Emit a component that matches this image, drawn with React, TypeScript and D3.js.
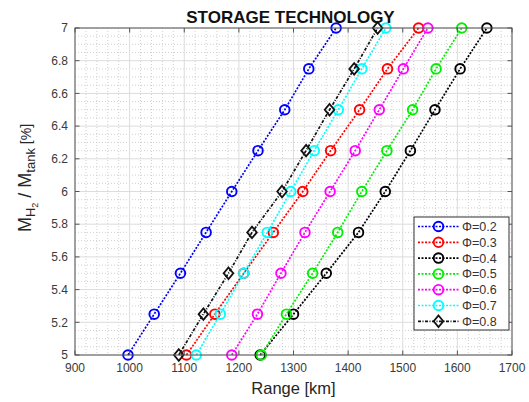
import React from "react";
import * as d3 from "d3";

const yValues = [5, 5.25, 5.5, 5.75, 6, 6.25, 6.5, 6.75, 7];
const phi02 = [997, 1045, 1093, 1140, 1187, 1235, 1284, 1328, 1378];
const phi03 = [1104, 1156, 1209, 1263, 1317, 1368, 1421, 1472, 1529];
const phi04 = [1239, 1300, 1360, 1419, 1468, 1514, 1559, 1605, 1654];
const phi05 = [1241, 1287, 1335, 1381, 1425, 1471, 1518, 1561, 1608];
const phi06 = [1187, 1234, 1277, 1321, 1367, 1413, 1457, 1501, 1546];
const phi07 = [1122, 1166, 1209, 1252, 1295, 1338, 1382, 1425, 1469];
const phi08 = [1090, 1135, 1181, 1224, 1279, 1323, 1366, 1411, 1454];

const seriesNames = ["Φ=0.2", "Φ=0.3", "Φ=0.4", "Φ=0.5", "Φ=0.6", "Φ=0.7", "Φ=0.8"];
const seriesColors = ["#0000ff", "#ff0000", "#000000", "#00ee00", "#ff00ff", "#00ffff", "#111111"];
const seriesMarkers = ["circle", "circle", "circle", "circle", "circle", "circle", "diamond"];
const seriesData = [phi02, phi03, phi04, phi05, phi06, phi07, phi08];

const xTicks = [900, 1000, 1100, 1200, 1300, 1400, 1500, 1600, 1700];
const yTicks = [5, 5.2, 5.4, 5.6, 5.8, 6, 6.2, 6.4, 6.6, 6.8, 7];

const W = 529, H = 402;
const L = 75, R = 512, T = 28, B = 355;

export default function App() {
  const x = d3.scaleLinear().domain([900, 1700]).range([L, R]);
  const y = d3.scaleLinear().domain([5, 7]).range([B, T]);
  const xMinor = d3.range(900, 1701, 20).filter((v) => v % 100 !== 0);
  const yMinor = d3.range(0, 41).map((i) => 5 + i * 0.05).filter((v, i) => i % 4 !== 0);
  const line = d3.line<[number, number]>().x((d) => x(d[0])).y((d) => y(d[1]));
  const font = "Arial, 'Liberation Sans', Helvetica, sans-serif";

  const marker = (kind: string, cx: number, cy: number, color: string, key: any) =>
    kind === "diamond" ? (
      <path key={key} d={`M${cx},${cy - 5.8}L${cx + 4.8},${cy}L${cx},${cy + 5.8}L${cx - 4.8},${cy}Z`} fill="none" stroke={color} strokeWidth={1.8} />
    ) : (
      <circle key={key} cx={cx} cy={cy} r={4.8} fill="none" stroke={color} strokeWidth={1.9} />
    );

  const legX = 414, legY = 217, legW = 95, legH = 113, legStep = 15.8;

  return (
    <svg width={W} height={H} style={{ position: "absolute", left: 0, top: 0, background: "#fff" }} fontFamily={font}>
      <rect x={0} y={0} width={W} height={H} fill="#fff" />
      <rect x={L} y={T} width={R - L} height={B - T} fill="#fff" />
      {xMinor.map((v) => (
        <line key={"xm" + v} x1={x(v)} x2={x(v)} y1={T} y2={B} stroke="#c4c4c4" strokeWidth={0.8} strokeDasharray="1,2" />
      ))}
      {yMinor.map((v, i) => (
        <line key={"ym" + i} x1={L} x2={R} y1={y(v)} y2={y(v)} stroke="#c4c4c4" strokeWidth={0.8} strokeDasharray="1,2" />
      ))}
      {xTicks.map((v) => (
        <line key={"xg" + v} x1={x(v)} x2={x(v)} y1={T} y2={B} stroke="#dcdcdc" strokeWidth={1} />
      ))}
      {yTicks.map((v) => (
        <line key={"yg" + v} x1={L} x2={R} y1={y(v)} y2={y(v)} stroke="#dcdcdc" strokeWidth={1} />
      ))}
      {seriesData.map((data, si) => {
        const pts = data.map((d, i) => [d, yValues[i]] as [number, number]);
        return (
          <g key={"s" + si}>
            <path d={line(pts) || ""} fill="none" stroke={seriesColors[si]} strokeWidth={1.7} strokeDasharray={si === 6 ? "3,1.5,1,1.5" : "2,1.5"} />
            {pts.map((p, i) => marker(seriesMarkers[si], x(p[0]), y(p[1]), seriesColors[si], i))}
          </g>
        );
      })}
      <rect x={L} y={T} width={R - L} height={B - T} fill="none" stroke="#555" strokeWidth={1} />
      {xTicks.map((v) => (
        <g key={"xt" + v}>
          <line x1={x(v)} x2={x(v)} y1={B} y2={B - 4.5} stroke="#555" />
          <line x1={x(v)} x2={x(v)} y1={T} y2={T + 4.5} stroke="#555" />
          <text x={x(v)} y={372} textAnchor="middle" fontSize={12} fill="#3a3a3a">{v}</text>
        </g>
      ))}
      {yTicks.map((v) => (
        <g key={"yt" + v}>
          <line x1={L} x2={L + 4.5} y1={y(v)} y2={y(v)} stroke="#555" />
          <line x1={R} x2={R - 4.5} y1={y(v)} y2={y(v)} stroke="#555" />
          <text x={68} y={y(v)} dy="0.35em" textAnchor="end" fontSize={12} fill="#3a3a3a">{d3.format("~g")(+v.toFixed(1))}</text>
        </g>
      ))}
      <text x={(L + R) / 2 - 3} y={23} textAnchor="middle" fontSize={17} fontWeight="bold" fill="#111">STORAGE TECHNOLOGY</text>
      <text x={(L + R) / 2} y={394} textAnchor="middle" fontSize={16.5} fill="#262626">Range [km]</text>
      <text transform="translate(31,178) rotate(-90)" textAnchor="middle" fontSize={18} fill="#262626">
        M<tspan fontSize={13} dy={4}>H</tspan>
        <tspan fontSize={9} dy={3}>2</tspan>
        <tspan fontSize={18} dy={-7}>{"  /  M"}</tspan>
        <tspan fontSize={13} dy={4}>tank</tspan>
        <tspan fontSize={14} dy={-4}>{" [%]"}</tspan>
      </text>
      <rect x={legX} y={legY} width={legW} height={legH} fill="#fff" stroke="#333" strokeWidth={1} />
      {seriesNames.map((name, i) => {
        const cy = legY + 9.5 + i * legStep;
        return (
          <g key={"lg" + i}>
            <line x1={418} x2={459} y1={cy} y2={cy} stroke={seriesColors[i]} strokeWidth={1.7} strokeDasharray={i === 6 ? "3,1.5,1,1.5" : "2,1.5"} />
            {marker(seriesMarkers[i], 438.5, cy, seriesColors[i], "m")}
            <text x={462} y={cy} dy="0.36em" fontSize={12.5} fill="#333">{name}</text>
          </g>
        );
      })}
    </svg>
  );
}
